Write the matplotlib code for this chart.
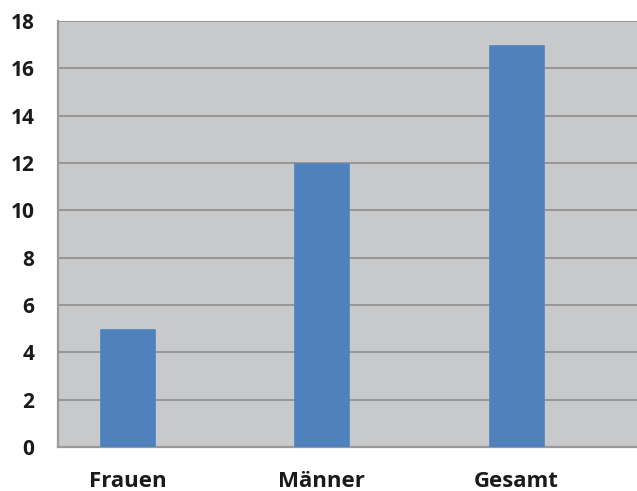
import matplotlib
matplotlib.use("Agg")
import matplotlib.pyplot as plt

categories = ["Frauen", "Männer", "Gesamt"]
values = [5, 12, 17]
yticks = [0, 2, 4, 6, 8, 10, 12, 14, 16, 18]

plt.rcParams['font.family'] = ['Open Sans', 'DejaVu Sans']

fig = plt.figure(figsize=(6.37, 4.91), dpi=100)
ax = fig.add_axes([58/637, 44/491, 1 - 58/637, (447-21)/491])
ax.set_facecolor('#c8c9cb')

x = list(range(len(categories)))
ax.bar(x, values, width=0.283, color='#4f81bd', edgecolor='#5a8ac2', linewidth=0.6, zorder=3)

ax.set_xlim(-0.357, 2.62)
ax.set_ylim(0, 18)
ax.set_yticks(yticks)
ax.set_yticklabels([str(t) for t in yticks], fontsize=15, fontweight='bold', color='#1a1a1a')
ax.set_xticks(x)
ax.set_xticklabels(categories, fontsize=16, fontweight='bold', color='#1a1a1a')
ax.tick_params(axis='y', length=0, pad=17)
ax.tick_params(axis='x', length=0, pad=17)

ax.grid(axis='y', color='#929292', linewidth=1.3, zorder=1)
ax.set_axisbelow(True)
for s in ['top', 'right']:
    ax.spines[s].set_visible(False)
ax.spines['left'].set_color('#9a9a9a')
ax.spines['left'].set_linewidth(1.6)
ax.spines['bottom'].set_color('#9a9a9a')
ax.spines['bottom'].set_linewidth(1.6)

fig.savefig('out.png', dpi=100)
